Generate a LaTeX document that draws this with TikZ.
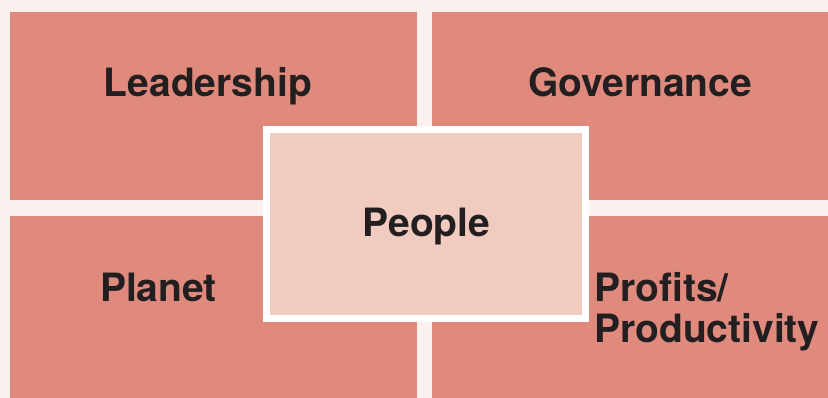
\documentclass[tikz,border=0pt]{standalone}
\usepackage{fontspec}
\setmainfont{TeX Gyre Heros}
\definecolor{bgpink}{HTML}{FAF0EE}
\definecolor{tilered}{HTML}{DF8A7D}
\definecolor{corepink}{HTML}{F2CBC0}
\definecolor{inkdark}{HTML}{231F20}
\begin{document}
\begin{tikzpicture}[x=1pt, y=1pt,
	tile/.style = {fill=tilered, inner sep=0pt, minimum width=407pt, minimum height=188pt, anchor=north west},
	core/.style = {draw=white, line width=7pt, fill=corepink, inner sep=0pt, minimum width=318.5pt, minimum height=188.5pt},
	word/.style = {text=inkdark, font=\fontsize{39}{41}\selectfont\bfseries, inner sep=0pt}]
	\useasboundingbox (0,0) rectangle (828,398);
	\clip (0,0) rectangle (828,398);
	\fill[bgpink] (0,0) rectangle (828,398);
	%The four outer tiles
	\node[tile] (lead) at (10,386) {};
	\node[tile] (gov) at (432,386) {};
	\node[tile] (planet) at (10,182) {};
	\node[tile] (profit) at (432,182) {};
	%Centre tile on top
	\node[core] (people) at (425.75,173.75) {};
	%Labels
	\node[word, anchor=base] (leadtxt) at (208,301) {Leadership};
	\node[word, anchor=base] (govtxt) at (640,301) {Governance};
	\node[word, anchor=base] (peopletxt) at (426.5,161) {People};
	\node[word, anchor=base] (planettxt) at (158.5,96) {Planet};
	\node[word, anchor=base west, align=left] (profittxt) at (594,55) {Profits/\\Productivity};
\end{tikzpicture}
\end{document}
